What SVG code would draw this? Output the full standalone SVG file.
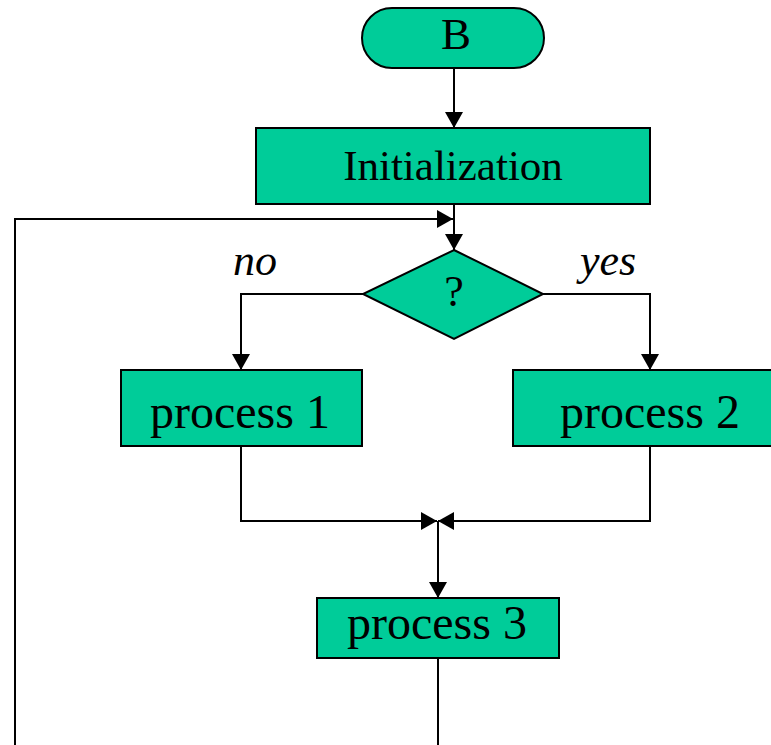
<svg xmlns="http://www.w3.org/2000/svg" width="771" height="745" viewBox="0 0 771 745">
  <defs>
    <style>
      .box { fill: #00CC99; stroke: #000; stroke-width: 2; }
      .line { fill: none; stroke: #000; stroke-width: 2; }
      .label { font-family: "Liberation Serif", "Times New Roman", serif; fill: #000; text-anchor: middle; }
      .cond { font-family: "Liberation Serif", "Times New Roman", serif; font-style: italic; fill: #000; text-anchor: middle; font-size: 44px; }
    </style>
    <marker id="arrow" markerUnits="userSpaceOnUse" markerWidth="16" markerHeight="18" viewBox="0 0 16 18" refX="16" refY="9" orient="auto">
      <path d="M0,0 L16,9 L0,18 Z" fill="#000"/>
    </marker>
  </defs>

  <rect width="771" height="745" fill="#fff"/>

  <!-- connectors -->
  <g id="connectors">
    <line class="line" x1="454" y1="68" x2="454" y2="128" marker-end="url(#arrow)"/>
    <line class="line" x1="454" y1="204" x2="454" y2="250" marker-end="url(#arrow)"/>
    <polyline class="line" points="15,745 15,219 453,219" marker-end="url(#arrow)"/>
    <polyline class="line" points="363,294 241,294 241,370" marker-end="url(#arrow)"/>
    <polyline class="line" points="543,294 650,294 650,370" marker-end="url(#arrow)"/>
    <polyline class="line" points="241,446 241,521 437,521" marker-end="url(#arrow)"/>
    <polyline class="line" points="650,446 650,521 438,521" marker-end="url(#arrow)"/>
    <line class="line" x1="438" y1="521" x2="438" y2="598" marker-end="url(#arrow)"/>
    <line class="line" x1="438" y1="658" x2="438" y2="745"/>
  </g>

  <!-- start terminator -->
  <g id="start">
    <rect class="box" x="362" y="8" width="182" height="60" rx="30" ry="30"/>
    <text class="label" x="456" y="49" font-size="45">B</text>
  </g>

  <g id="init">
    <rect class="box" x="256" y="128" width="394" height="76"/>
    <text class="label" x="453" y="180" font-size="43">Initialization</text>
  </g>

  <g id="decision">
    <polygon class="box" points="454,250 543,294 454,339 363,294"/>
    <text class="label" x="454" y="306" font-size="44">?</text>
  </g>

  <g id="cond-labels">
    <text class="cond" x="255" y="275">no</text>
    <text class="cond" x="608" y="275">yes</text>
  </g>

  <g id="process1">
    <rect class="box" x="121" y="370" width="241" height="76"/>
    <text class="label" x="240" y="428" font-size="48">process 1</text>
  </g>

  <g id="process2">
    <rect class="box" x="513" y="370" width="280" height="76"/>
    <text class="label" x="650" y="428" font-size="48">process 2</text>
  </g>

  <g id="process3">
    <rect class="box" x="317" y="598" width="242" height="60"/>
    <text class="label" x="437" y="639" font-size="48">process 3</text>
  </g>
</svg>
